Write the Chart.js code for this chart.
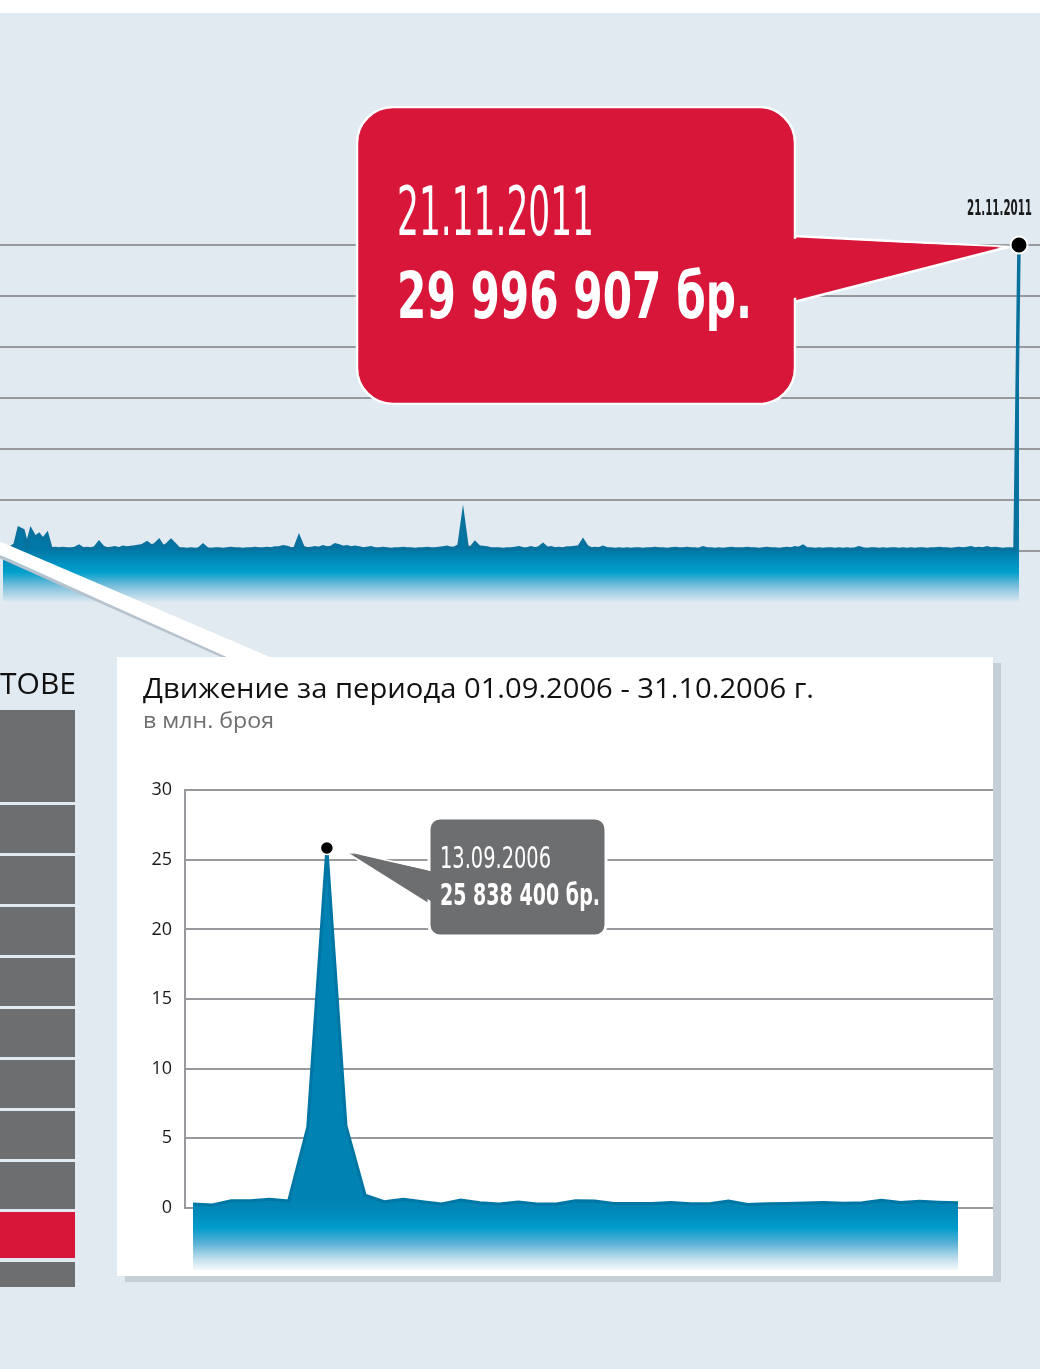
<!DOCTYPE html>
<html lang="bg">
<head>
<meta charset="utf-8">
<title>Движение на акциите</title>
<script src="https://cdn.jsdelivr.net/npm/chart.js@4.4.1/dist/chart.umd.min.js"></script>
<style>
  html, body { margin: 0; padding: 0; }
  body {
    position: relative; width: 1040px; height: 1369px; overflow: hidden;
    background: #e1e9f1; font-family: "Open Sans", "Noto Sans", sans-serif;
  }
  .abs { position: absolute; }
  .txt { position: absolute; white-space: nowrap; line-height: 1; transform-origin: 0 0; }
  .narrow { font-family: "Liberation Sans Narrow", "DejaVu Sans Condensed", "Liberation Sans", sans-serif; }
  #topStrip { left: 0; top: 0; width: 1040px; height: 13px; background: #fff; }
  #bigCanvas { left: 0; top: 200px; }
  #panel { left: 117px; top: 657px; width: 876px; height: 619px; background: #fff; box-shadow: 8px 6px 0 #c6cfd7; }
  #smallCanvas { left: 130px; top: 770px; }
  #shapes { left: 0; top: 0; pointer-events: none; }
  .cell { position: absolute; left: 0; width: 75px; }
</style>
</head>
<body>
<div id="topStrip" class="abs"></div>
<canvas id="bigCanvas" class="abs" width="1040" height="410"></canvas>
<div id="panel" class="abs"></div>
<canvas id="smallCanvas" class="abs" width="863" height="506"></canvas>

<svg id="shapes" class="abs" width="1040" height="1369">
  <!-- connector stripe from the big chart to the inset -->
  <polygon points="0,555 227,657 221,657 0,558.5" fill="#b7c2cc"/>
  <polygon points="0,541.5 270,657 227,657 0,555" fill="#fff"/>
  <!-- red callout -->
  <polygon points="794,236 1008,247 794,302" fill="#d7163a" stroke="#fff" stroke-width="2.5" stroke-linejoin="round"/>
  <rect x="357" y="107" width="438" height="297" rx="36" fill="#d7163a" stroke="#fff" stroke-width="2.5"/>
  <polygon points="788,238.5 1000,247 788,299.5" fill="#d7163a"/>
  <!-- grey callout -->
  <polygon points="430,870 344,851 430,905" fill="#6d6e70" stroke="#fff" stroke-width="2"/>
  <rect x="429" y="818" width="177" height="118" rx="11" fill="#6d6e70" stroke="#fff" stroke-width="3"/>
  <polygon points="434,872 352,853 434,903" fill="#6d6e70"/>
</svg>

<div id="table"></div>

<div class="txt narrow" data-w="197" style="left:397px; top:179px; font-size:67px; color:#fff;">21.11.2011</div>
<div class="txt narrow" data-w="355" style="left:397px; top:264px; font-size:64px; font-weight:bold; color:#fff;">29 996 907 бр.</div>
<div class="txt narrow" data-w="65" style="left:967px; top:198px; font-size:21px; font-weight:bold; color:#1a1a1a;">21.11.2011</div>

<div class="txt narrow" data-w="111" style="left:440px; top:843px; font-size:30px; color:#fff;">13.09.2006</div>
<div class="txt narrow" data-w="160" style="left:440px; top:880px; font-size:30px; font-weight:bold; color:#fff;">25 838 400 бр.</div>

<div class="txt" data-w="671" style="left:143px; top:674px; font-size:27px; color:#111;">Движение за периода 01.09.2006 - 31.10.2006 г.</div>
<div class="txt" data-w="131" style="left:143px; top:710px; font-size:21px; color:#6d6e70;">в млн. броя</div>
<div class="txt" data-w="76" style="left:0px; top:668px; font-size:30px; color:#111;">ТОВЕ</div>

<script>
// big chart: daily volume (mln. shares), one sample every 4 px, ends on 21.11.2011
const bigVolume = [
  0.3, 0.3, 0.35, 0.6, 2.2, 2.0, 0.5, 2.0, 1.3, 1.6,
  1.1, 1.6, 0.2, 0.25, 0.2, 0.25, 0.2, 0.2, 0.25, 0.45,
  0.2, 0.25, 0.2, 0.3, 0.8, 0.35, 0.2, 0.25, 0.3, 0.2,
  0.35, 0.3, 0.35, 0.4, 0.45, 0.55, 0.8, 0.5, 0.6, 1.0,
  0.4, 0.6, 1.0, 0.6, 0.2, 0.2, 0.15, 0.2, 0.15, 0.2,
  0.55, 0.2, 0.15, 0.2, 0.2, 0.15, 0.2, 0.25, 0.2, 0.2,
  0.15, 0.2, 0.2, 0.25, 0.2, 0.2, 0.25, 0.2, 0.3, 0.3,
  0.4, 0.35, 0.2, 0.25, 1.3, 0.35, 0.2, 0.25, 0.3, 0.25,
  0.4, 0.3, 0.35, 0.6, 0.5, 0.35, 0.4, 0.3, 0.35, 0.3,
  0.2, 0.25, 0.3, 0.2, 0.2, 0.25, 0.2, 0.15, 0.2, 0.2,
  0.25, 0.2, 0.2, 0.15, 0.2, 0.2, 0.25, 0.2, 0.2, 0.25,
  0.3, 0.35, 0.25, 0.3, 0.5, 3.3, 0.4, 0.3, 0.8, 0.4,
  0.35, 0.3, 0.2, 0.2, 0.2, 0.15, 0.2, 0.2, 0.25, 0.3,
  0.2, 0.2, 0.3, 0.2, 0.3, 0.6, 0.25, 0.3, 0.2, 0.25,
  0.2, 0.3, 0.3, 0.35, 0.4, 1.0, 0.4, 0.2, 0.25, 0.2,
  0.35, 0.2, 0.2, 0.15, 0.2, 0.15, 0.2, 0.15, 0.2, 0.2,
  0.15, 0.2, 0.2, 0.25, 0.2, 0.2, 0.15, 0.2, 0.25, 0.2,
  0.2, 0.25, 0.2, 0.2, 0.15, 0.3, 0.2, 0.2, 0.15, 0.2,
  0.15, 0.2, 0.25, 0.2, 0.2, 0.2, 0.25, 0.2, 0.2, 0.15,
  0.2, 0.25, 0.2, 0.2, 0.15, 0.2, 0.25, 0.2, 0.3, 0.25,
  0.45, 0.2, 0.2, 0.15, 0.2, 0.15, 0.2, 0.2, 0.15, 0.2,
  0.15, 0.2, 0.15, 0.2, 0.3, 0.2, 0.15, 0.2, 0.2, 0.15,
  0.2, 0.15, 0.2, 0.2, 0.15, 0.2, 0.15, 0.2, 0.15, 0.2,
  0.2, 0.15, 0.2, 0.2, 0.25, 0.2, 0.2, 0.15, 0.2, 0.25,
  0.2, 0.25, 0.3, 0.2, 0.25, 0.2, 0.3, 0.2, 0.25, 0.2,
  0.15, 0.2, 0.2, 0.15, 29.996907
];
const bigTicks = [0, 5, 10, 15, 20, 25, 30];

// inset: trading days 01.09.2006 - 31.10.2006
const smallDates = [
  '01.09', '04.09', '05.09', '07.09', '08.09', '11.09', '12.09', '13.09', '14.09', '15.09',
  '18.09', '19.09', '20.09', '21.09', '25.09', '26.09', '27.09', '28.09', '29.09',
  '02.10', '03.10', '04.10', '05.10', '06.10', '09.10', '10.10', '11.10', '12.10', '13.10',
  '16.10', '17.10', '18.10', '19.10', '20.10', '23.10', '24.10', '25.10', '26.10', '27.10',
  '30.10', '31.10'
];
const smallVolume = [
  0.29, 0.22, 0.52, 0.52, 0.62, 0.5, 5.8, 25.8384, 5.9, 0.93,
  0.45, 0.62, 0.45, 0.29, 0.57, 0.38, 0.29, 0.43, 0.29,
  0.29, 0.52, 0.5, 0.33, 0.33, 0.33, 0.4, 0.3, 0.3, 0.5,
  0.26, 0.3, 0.33, 0.36, 0.4, 0.35, 0.38, 0.55, 0.4, 0.48,
  0.42, 0.38
];
const smallTicks = [0, 5, 10, 15, 20, 25, 30];

// ── left table (cropped) ───────────────────────────
const table = document.getElementById('table');
[[710, 92], [805, 48], [856, 48], [907, 48], [958, 48], [1009, 48], [1060, 48],
 [1111, 48], [1162, 47], [1212, 46, '#d7163a'], [1262, 25]].forEach(([top, h, c]) => {
  const d = document.createElement('div');
  d.className = 'cell';
  d.style.top = top + 'px';
  d.style.height = h + 'px';
  d.style.background = c || '#6d6e70';
  table.appendChild(d);
});

const onlyTicks = list => scale => { scale.ticks = list.map(v => ({ value: v })); };
const gridColor = '#98999c';

// ── big chart ─────────────────────────────────────
const bigLast = bigVolume.length - 1;
new Chart(document.getElementById('bigCanvas'), {
  type: 'line',
  data: {
    datasets: [{
      data: bigVolume.map((v, i) => ({ x: i, y: v })),
      borderColor: '#08719d',
      borderWidth: 3.5,
      tension: 0,
      fill: { value: -5 },
      backgroundColor: ctx => {
        const { chart } = ctx;
        if (!chart.chartArea) return '#0080b0';
        const y = chart.scales.y;
        const g = chart.ctx.createLinearGradient(0, y.getPixelForValue(0.3), 0, y.getPixelForValue(-5));
        g.addColorStop(0, '#0077a6');
        g.addColorStop(0.12, '#007fae');
        g.addColorStop(0.3, '#0092c1');
        g.addColorStop(0.45, '#009fcb');
        g.addColorStop(0.7, '#78bedb');
        g.addColorStop(1, '#dce8f1');
        return g;
      },
      pointRadius: ctx => ctx.dataIndex === bigLast ? 8.5 : 0,
      pointBackgroundColor: '#000',
      pointBorderColor: '#fff',
      pointBorderWidth: 2,
      clip: false,
    }],
  },
  options: {
    responsive: false,
    animation: false,
    layout: { padding: 0, autoPadding: false },
    plugins: { legend: { display: false }, tooltip: { enabled: false } },
    scales: {
      x: { type: 'linear', min: -0.75, max: 259.25, display: false },
      y: {
        min: -5.79, max: 34.41,
        afterBuildTicks: onlyTicks(bigTicks),
        afterFit: s => { s.width = 0; s.paddingTop = 0; s.paddingBottom = 0; },
        ticks: { display: false },
        border: { display: false },
        grid: { color: gridColor, lineWidth: 2, drawTicks: false },
      },
    },
  },
});

// ── inset chart ───────────────────────────────────
const axisLine = {
  id: 'axisLine',
  beforeDatasetsDraw(chart) {
    const { ctx, chartArea, scales: { y } } = chart;
    ctx.save();
    ctx.strokeStyle = gridColor;
    ctx.lineWidth = 2;
    ctx.beginPath();
    ctx.moveTo(chartArea.left + 1, y.getPixelForValue(30));
    ctx.lineTo(chartArea.left + 1, y.getPixelForValue(0));
    ctx.stroke();
    ctx.restore();
  },
};

const smallPeak = smallVolume.indexOf(Math.max(...smallVolume));
new Chart(document.getElementById('smallCanvas'), {
  type: 'line',
  data: {
    labels: smallDates,
    datasets: [{
      data: smallVolume.map((v, i) => ({ x: i, y: v })),
      borderColor: '#0076a5',
      borderWidth: 3,
      tension: 0,
      fill: { value: -4.45 },
      backgroundColor: ctx => {
        const { chart } = ctx;
        if (!chart.chartArea) return '#0083b3';
        const y = chart.scales.y;
        const g = chart.ctx.createLinearGradient(0, y.getPixelForValue(0.6), 0, y.getPixelForValue(-4.45));
        g.addColorStop(0, '#0083b3');
        g.addColorStop(0.15, '#0087b7');
        g.addColorStop(0.4, '#009bca');
        g.addColorStop(0.62, '#5ab1d6');
        g.addColorStop(0.85, '#c4e0ee');
        g.addColorStop(1, '#f4f9fc');
        return g;
      },
      pointRadius: ctx => ctx.dataIndex === smallPeak ? 6.5 : 0,
      pointBackgroundColor: '#000',
      pointBorderColor: '#fff',
      pointBorderWidth: 1.5,
      clip: false,
    }],
  },
  options: {
    responsive: false,
    animation: false,
    layout: { padding: 0, autoPadding: false },
    plugins: { legend: { display: false }, tooltip: { enabled: false } },
    scales: {
      x: { type: 'linear', min: -0.47, max: 41.83, display: false },
      y: {
        min: -4.88, max: 31.44,
        afterBuildTicks: onlyTicks(smallTicks),
        afterFit: s => { s.width = 54; s.paddingTop = 0; s.paddingBottom = 0; },
        border: { display: false },
        grid: { color: gridColor, lineWidth: 2, drawTicks: false },
        ticks: { padding: 12, color: '#1a1a1a', font: { family: 'Open Sans', size: 18 } },
      },
    },
  },
  plugins: [axisLine],
});

// squeeze condensed labels to the widths measured on the original
document.querySelectorAll('[data-w]').forEach(el => {
  const w = el.getBoundingClientRect().width;
  if (w > 0) el.style.transform = `scaleX(${el.dataset.w / w})`;
});
</script>
</body>
</html>
